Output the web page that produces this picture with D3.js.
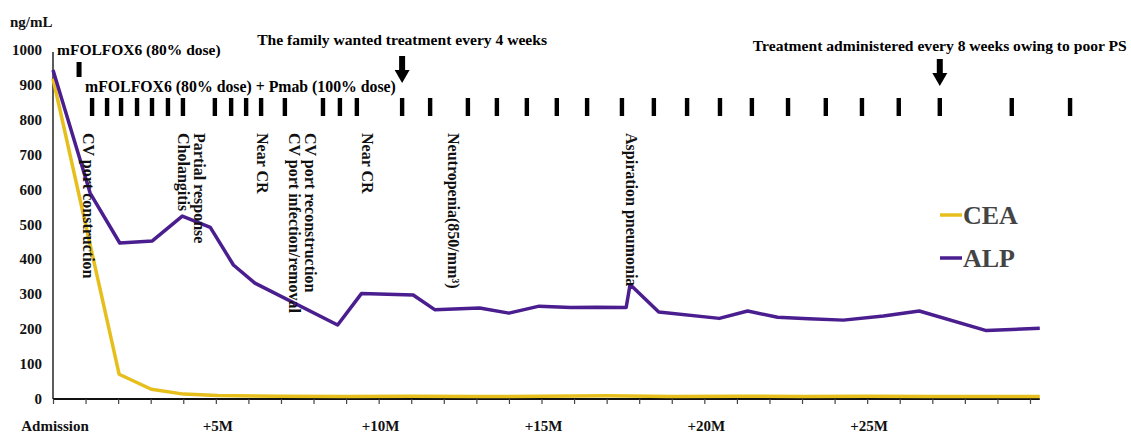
<!DOCTYPE html>
<html><head><meta charset="utf-8">
<script src="https://cdn.jsdelivr.net/npm/d3@7"></script>
<style>
body{margin:0;background:#fff;}
text{font-family:"Liberation Serif","Times New Roman",serif;font-weight:bold;}
</style></head>
<body><svg id="c" width="1131" height="435"></svg>
<script>
// ---- data ----
const alpMonths = [0, 1.14, 2.05, 3.05, 3.97, 4.83, 5.54, 6.2, 8.74, 9.47, 11.06, 11.72, 13.1, 14.0, 14.93, 15.9, 16.7, 17.6, 17.72, 18.6, 20.46, 21.33, 22.25, 23.2, 24.27, 25.5, 26.6, 28.66, 30.3];
const alpValues = [943, 590, 447, 453, 524, 492, 384, 332, 212, 302, 298, 256, 261, 246, 266, 262, 263, 262, 328, 249, 231, 252, 234, 230, 226, 238, 252, 196, 203];
const ceaMonths = [0, 2.03, 3.02, 4.01, 5.05, 7, 9, 11, 13, 15, 17, 19, 21, 23, 25, 27, 30.3];
const ceaValues = [918, 71, 28, 14, 10, 8, 7, 8, 7, 8, 9, 7, 8, 7, 8, 7, 7];
const yTicks = [0, 100, 200, 300, 400, 500, 600, 700, 800, 900, 1000];
const xTickMonths = d3.range(0, 31);
const xLabels = [{m:0, t:"Admission"}, {m:5, t:"+5M"}, {m:10, t:"+10M"}, {m:15, t:"+15M"}, {m:20, t:"+20M"}, {m:25, t:"+25M"}];
const firstCycle = [0.8];
const pmabCycles = [1.20, 1.66, 2.09, 2.58, 3.04, 3.53, 3.99, 4.97, 5.47, 5.93, 6.39, 7.12, 8.29, 8.81, 9.33, 10.72, 11.58, 12.74, 13.63, 14.55, 15.47, 16.40, 17.47, 18.45, 19.47, 20.48, 21.46, 22.57, 23.73, 24.84, 25.97, 27.23, 29.44, 31.23];
const arrowMonths = [10.72, 27.23];
const arrowTexts = ["The family wanted treatment every 4 weeks", "Treatment administered every 8 weeks owing to poor PS"];
const events = [
  {m:1.07, lines:["CV port construction"]},
  {m:4.24, lines:["Partial response","Cholangitis"]},
  {m:6.42, lines:["Near CR"]},
  {m:7.65, lines:["CV port reconstruction","CV port infection/removal"]},
  {m:9.64, lines:["Near CR"]},
  {m:12.28, lines:["Neutropenia(850/mm\u00B3)"]},
  {m:17.75, lines:["Aspiration pneumonia"]}
];
const series = [
  {name:"CEA", color:"#E6BF1C", months:ceaMonths, values:ceaValues},
  {name:"ALP", color:"#4B1E90", months:alpMonths, values:alpValues}
];

// ---- scales ----
const svg = d3.select("#c");
const x = d3.scaleLinear().domain([0, 30]).range([53, 1030]);
const y = d3.scaleLinear().domain([0, 1000]).range([399, 50]);

// y axis
svg.append("line").attr("x1", x(0)).attr("x2", x(0)).attr("y1", y(1000)+2).attr("y2", y(0))
  .attr("stroke", "#333").attr("stroke-width", 1.6);
svg.selectAll(".yl").data(yTicks).join("text")
  .attr("x", 42).attr("y", d => y(d) + 5).attr("text-anchor", "end")
  .attr("font-size", 15).attr("fill", "#111").text(d => d);
svg.append("text").attr("x", 10).attr("y", 27).attr("font-size", 15).attr("fill", "#111").text("ng/mL");

// x axis
const xAxis = d3.axisBottom(x).tickValues(xTickMonths).tickSize(5).tickFormat("");
const gx = svg.append("g").attr("transform", `translate(0,${y(0)})`).call(xAxis);
gx.select(".domain").attr("stroke", "#111").attr("stroke-width", 2).attr("d", `M${x(0)},0H${x(30.3)}`);
gx.selectAll(".tick line").attr("stroke", "#444").attr("stroke-width", 1.2);
svg.selectAll(".xl").data(xLabels).join("text")
  .attr("x", d => x(d.m) + 2).attr("y", 431).attr("text-anchor", "middle")
  .attr("font-size", 15).attr("fill", "#111").text(d => d.t);

// lines
const line = d3.line().x(d => x(d[0])).y(d => y(d[1]));
series.forEach(s => {
  svg.append("path").datum(s.months.map((m, i) => [m, s.values[i]]))
    .attr("d", line).attr("fill", "none").attr("stroke", s.color)
    .attr("stroke-width", 3.5).attr("stroke-linejoin", "round");
});

// treatment bars
svg.selectAll(".fc").data(firstCycle).join("rect")
  .attr("x", d => x(d) - 2.5).attr("y", 62).attr("width", 5).attr("height", 15).attr("fill", "#000");
svg.selectAll(".pc").data(pmabCycles).join("rect")
  .attr("x", d => x(d) - 2.2).attr("y", 98).attr("width", 4.4).attr("height", 18).attr("fill", "#000");
svg.append("text").attr("x", 57).attr("y", 55).attr("font-size", 15.5).attr("fill", "#000").text("mFOLFOX6 (80% dose)");
svg.append("text").attr("x", 85).attr("y", 92).attr("font-size", 15.8).attr("fill", "#000").text("mFOLFOX6 (80% dose) + Pmab (100% dose)");

// arrows
arrowMonths.forEach((m, i) => {
  const cx = x(m), top = i === 0 ? 56 : 59;
  svg.append("rect").attr("x", cx - 3).attr("y", top).attr("width", 6).attr("height", 15).attr("fill", "#000");
  svg.append("path").attr("d", `M${cx-7.5},${top+14}L${cx+7.5},${top+14}L${cx},${top+27}Z`).attr("fill", "#000");
  svg.append("text").attr("x", cx).attr("y", i === 0 ? 45 : 51).attr("text-anchor", "middle")
    .attr("font-size", 15.6).attr("fill", "#000").text(arrowTexts[i]);
});

// rotated event labels
events.forEach(e => {
  const n = e.lines.length;
  const cx = x(e.m);
  e.lines.forEach((t, j) => {
    // first line on the right, following lines to the left
    const lc = cx + (n - 1) * 8 - j * 16;
    svg.append("text").attr("transform", `translate(${lc - 5},133) rotate(90)`)
      .attr("font-size", 16).attr("fill", "#111").text(t);
  });
});

// legend
series.forEach((s, i) => {
  const ly = 215 + i * 43;
  svg.append("line").attr("x1", 940).attr("x2", 962).attr("y1", ly).attr("y2", ly)
    .attr("stroke", s.color).attr("stroke-width", 3.5);
  svg.append("text").attr("x", 963).attr("y", ly + 9).attr("font-size", 26).attr("fill", "#444").text(s.name);
});
</script></body></html>
